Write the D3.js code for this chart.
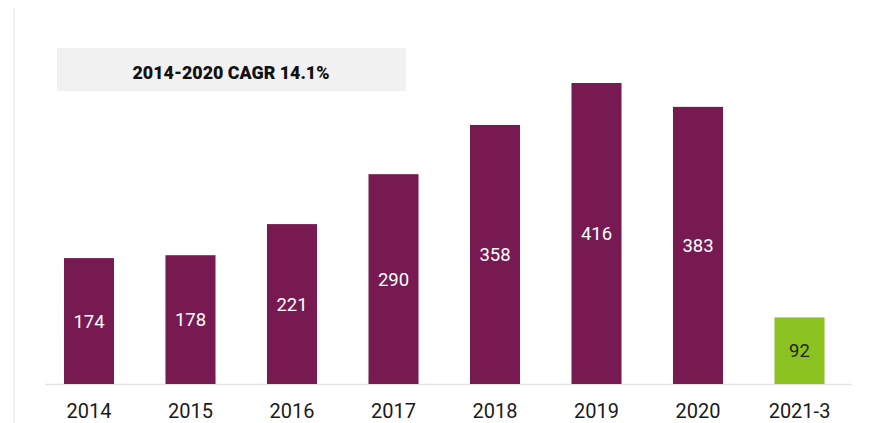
<!DOCTYPE html>
<html><head><meta charset="utf-8">
<script src="https://cdn.jsdelivr.net/npm/d3@7"></script>
<style>html,body{margin:0;padding:0;background:#fff;}svg{display:block;}</style>
</head><body>
<svg id="chart" width="883" height="423"></svg>
<script>
const categories = ["2014","2015","2016","2017","2018","2019","2020","2021-3"];
const values = [174,178,221,290,358,416,383,92];
const highlight = [false,false,false,false,false,false,false,true];
const annotation = "2014-2020 CAGR 14.1%";

const svg = d3.select("#chart");
const W = 883, H = 423;
const baseY = 384;

const x = d3.scaleBand().domain(categories).range([38.25, 850.25]).paddingInner(0.507).paddingOuter(0.2535);
const y = d3.scaleLinear().domain([0, 416]).range([baseY, 83]);

// faint scan edge line
svg.append("line").attr("x1",14).attr("x2",14).attr("y1",8).attr("y2",H).attr("stroke","#f1f1f1").attr("stroke-width",2);

// annotation box
svg.append("rect").attr("x",57).attr("y",48).attr("width",349).attr("height",43).attr("fill","#f1f1f1");
svg.append("text").attr("x",231).attr("y",79).attr("text-anchor","middle")
  .attr("font-family","Roboto, sans-serif").attr("font-weight",900).attr("font-size",19)
  .attr("textLength",197).attr("lengthAdjust","spacingAndGlyphs")
  .attr("fill","#111").text(annotation);

// baseline
svg.append("line").attr("x1",45).attr("x2",852).attr("y1",baseY+0.5).attr("y2",baseY+0.5).attr("stroke","#e4e4e4").attr("stroke-width",1.5);

const g = svg.append("g");
g.selectAll("rect.bar").data(categories).join("rect").attr("class","bar")
  .attr("x", d => x(d)).attr("width", x.bandwidth())
  .attr("y", (d,i) => y(values[i])).attr("height", (d,i) => baseY - y(values[i]))
  .attr("fill", (d,i) => highlight[i] ? "#8cc220" : "#771a52");

g.selectAll("text.val").data(categories).join("text").attr("class","val")
  .attr("x", d => x(d) + x.bandwidth()/2)
  .attr("y", (d,i) => (y(values[i]) + baseY)/2)
  .attr("dy","0.36em").attr("text-anchor","middle")
  .attr("font-family","Roboto, sans-serif").attr("font-size",18.5)
  .attr("fill", (d,i) => highlight[i] ? "#222" : "#fff")
  .text((d,i) => values[i]);

const axis = d3.axisBottom(x).tickSize(0).tickPadding(0);
const ax = svg.append("g").attr("transform",`translate(0,${baseY})`).call(axis);
ax.select(".domain").remove();
ax.selectAll("text").attr("font-family","Roboto, sans-serif").attr("font-size",20)
  .attr("fill","#1a1a1a").attr("dy",null).attr("y",34);
</script>
</body></html>
